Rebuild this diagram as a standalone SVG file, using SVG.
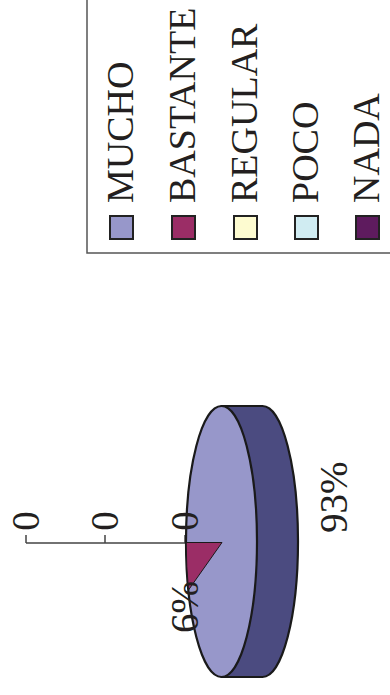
<svg xmlns="http://www.w3.org/2000/svg" width="390" height="695" viewBox="0 0 390 695">
<style>
text{font-family:"Liberation Serif","Times New Roman",serif;fill:#231f20}
.lg{font-size:38px}
.lb{font-size:39px}
.sw{stroke:#222;stroke-width:2}
.ol{stroke:#1a1a1a;stroke-width:2.2;stroke-linejoin:round}
</style>
<rect width="390" height="695" fill="#fff"/>
<g id="legend">
<rect x="87" y="-10" width="320" height="263" fill="none" stroke="#555" stroke-width="1.5"/>
<g id="leg-mucho"><rect class="sw" x="110" y="216" width="23" height="23" fill="#9797ca"/><text class="lg" transform="translate(133,203) rotate(-90)">MUCHO</text></g>
<g id="leg-bastante"><rect class="sw" x="172" y="216" width="23" height="23" fill="#9b2d66"/><text class="lg" transform="translate(195,203) rotate(-90)">BASTANTE</text></g>
<g id="leg-regular"><rect class="sw" x="234" y="216" width="23" height="23" fill="#fdfbd0"/><text class="lg" transform="translate(257,203) rotate(-90)">REGULAR</text></g>
<g id="leg-poco"><rect class="sw" x="295" y="216" width="23" height="23" fill="#d0ecf2"/><text class="lg" transform="translate(318,203) rotate(-90)">POCO</text></g>
<g id="leg-nada"><rect class="sw" x="356" y="216" width="23" height="23" fill="#5e1b5e"/><text class="lg" transform="translate(379,203) rotate(-90)">NADA</text></g>
</g>
<g id="connectors">
<path d="M26,543 H186 M26,543 V535 M105,543 V535 M185,543 V535" fill="none" stroke="#444" stroke-width="1.5"/>
</g>
<g id="pie">
<path class="ol" d="M221.5,406 H262.5 A35.5,135.5 0 0 1 262.5,677 H221.5 Z" fill="#4b4b80"/>
<ellipse class="ol" cx="221.5" cy="541.5" rx="35.5" ry="135.5" fill="#9797ca"/>
<path d="M222,542.5 L186.2,542.5 A35.5,135.5 0 0 0 188.5,590 Z" fill="#9b2d66" stroke="#1a1a1a" stroke-width="1"/>
</g>
<g id="labels">
<text class="lb" text-anchor="middle" transform="translate(39,521) rotate(-90)">0</text>
<text class="lb" text-anchor="middle" transform="translate(118,521) rotate(-90)">0</text>
<text class="lb" text-anchor="middle" transform="translate(198,521) rotate(-90)">0</text>
<text class="lb" transform="translate(198,633) rotate(-90)">6%</text>
<text class="lb" transform="translate(347,533) rotate(-90)">93%</text>
</g>
</svg>
